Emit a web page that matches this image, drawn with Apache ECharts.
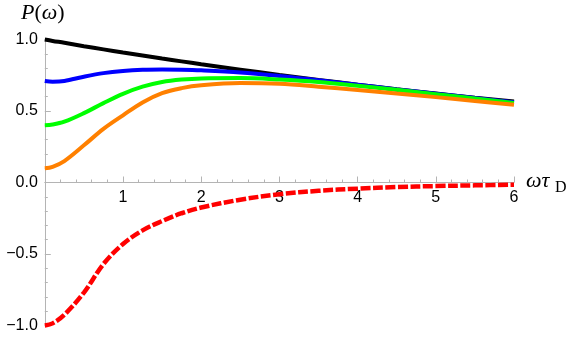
<!DOCTYPE html>
<html>
<head>
<meta charset="utf-8">
<script src="https://cdn.jsdelivr.net/npm/echarts@6/dist/echarts.min.js"></script>
<style>html,body{margin:0;padding:0;background:#fff}#c{width:572px;height:342px}</style>
</head>
<body>
<div id="c"></div>
<script>
const xs = [0, 0.1, 0.25, 0.5, 0.75, 1, 1.25, 1.5, 1.75, 2, 2.5, 3, 3.5, 4, 4.5, 5, 5.5, 6];
const blackVals  = [1.00, 0.99, 0.977, 0.953, 0.931, 0.909, 0.888, 0.867, 0.847, 0.827, 0.789, 0.752, 0.717, 0.684, 0.652, 0.622, 0.593, 0.566];
const blueVals   = [0.71, 0.705, 0.71, 0.74, 0.765, 0.78, 0.788, 0.79, 0.789, 0.785, 0.77, 0.745, 0.715, 0.684, 0.651, 0.621, 0.591, 0.562];
const greenVals  = [0.40, 0.405, 0.425, 0.485, 0.555, 0.62, 0.67, 0.703, 0.72, 0.728, 0.73, 0.72, 0.703, 0.677, 0.648, 0.618, 0.588, 0.556];
const orangeVals = [0.10, 0.11, 0.15, 0.26, 0.375, 0.47, 0.56, 0.625, 0.66, 0.68, 0.695, 0.69, 0.67, 0.647, 0.622, 0.597, 0.57, 0.543];
const redVals    = [-1.0, -0.985, -0.925, -0.77, -0.57, -0.43, -0.335, -0.27, -0.215, -0.175, -0.12, -0.082, -0.058, -0.043, -0.032, -0.025, -0.02, -0.016];
const xTicks = [1, 2, 3, 4, 5, 6];
const yTicks = [-1.0, -0.5, 0.0, 0.5, 1.0];

const pairs = vals => xs.map((x, i) => [x, vals[i]]);
const axisGray = '#b4b4b4';
const labelFont = {color: '#000', fontSize: 16, fontFamily: 'Liberation Sans, Arial, sans-serif'};
const gridTop = 39.5, gridBottom = 16.5, H = 342;
const plotH = H - gridTop - gridBottom;
const zeroOffset = -plotH / 2; // x axis sits at y = 0 (middle of -1..1)

const chart = echarts.init(document.getElementById('c'), null, {renderer: 'canvas'});
const mk = (vals, color, extra) => Object.assign({
  type: 'line', data: pairs(vals), smooth: 0.35, showSymbol: false, symbol: 'none', clip: false,
  lineStyle: {color: color, width: 4}, itemStyle: {color: color}, animation: false, silent: true
}, extra || {});

chart.setOption({
  animation: false,
  grid: {left: 44.8, right: 58, top: gridTop, bottom: gridBottom, containLabel: false},
  xAxis: {
    type: 'value', min: 0, max: 6, interval: 1, position: 'bottom', offset: zeroOffset,
    axisLine: {show: true, onZero: false, lineStyle: {color: axisGray, width: 1}},
    axisTick: {show: true, inside: true, length: 6, lineStyle: {color: axisGray}},
    minorTick: {show: true, splitNumber: 5, length: 3, lineStyle: {color: axisGray}},
    splitLine: {show: false},
    axisLabel: Object.assign({margin: 7, formatter: v => xTicks.indexOf(v) >= 0 ? String(v) : ''}, labelFont)
  },
  yAxis: {
    type: 'value', min: -1, max: 1, interval: 0.5,
    axisLine: {show: true, onZero: false, lineStyle: {color: axisGray, width: 1}},
    axisTick: {show: true, inside: true, length: 6, lineStyle: {color: axisGray}},
    minorTick: {show: true, splitNumber: 5, length: 3, lineStyle: {color: axisGray}},
    splitLine: {show: false},
    axisLabel: Object.assign({margin: 7, formatter: v => {
      const t = yTicks.find(k => Math.abs(k - v) < 1e-9);
      return t === undefined ? '' : t.toFixed(1).replace('-', '\u2212');
    }}, labelFont)
  },
  series: [
    mk(blackVals, '#000000'),
    mk(blueVals, '#0000ff'),
    mk(greenVals, '#00ff00'),
    mk(orangeVals, '#ff8000'),
    mk(redVals, '#ff0000', {lineStyle: {color: '#ff0000', width: 4.5, type: [10, 2.5]}})
  ],
  graphic: [
    {type: 'text', left: 21, top: 2, silent: true, style: {
      text: '{i|P}{n|(}{i|\u03c9}{n|)}',
      rich: {
        i: {fontFamily: 'Liberation Serif, Times New Roman, serif', fontStyle: 'italic', fontSize: 22, fill: '#000'},
        n: {fontFamily: 'Liberation Serif, Times New Roman, serif', fontSize: 22, fill: '#000'}
      }
    }},
    {type: 'text', x: 526, y: 181, silent: true, style: {
      text: '\u03c9\u03c4', fontFamily: 'Liberation Serif, Times New Roman, serif', fontStyle: 'italic',
      fontSize: 22, fill: '#000', verticalAlign: 'middle'
    }},
    {type: 'text', x: 555, y: 188, silent: true, style: {
      text: 'D', fontFamily: 'Liberation Serif, Times New Roman, serif',
      fontSize: 16, fill: '#000', verticalAlign: 'middle'
    }}
  ]
});
</script>
</body>
</html>
